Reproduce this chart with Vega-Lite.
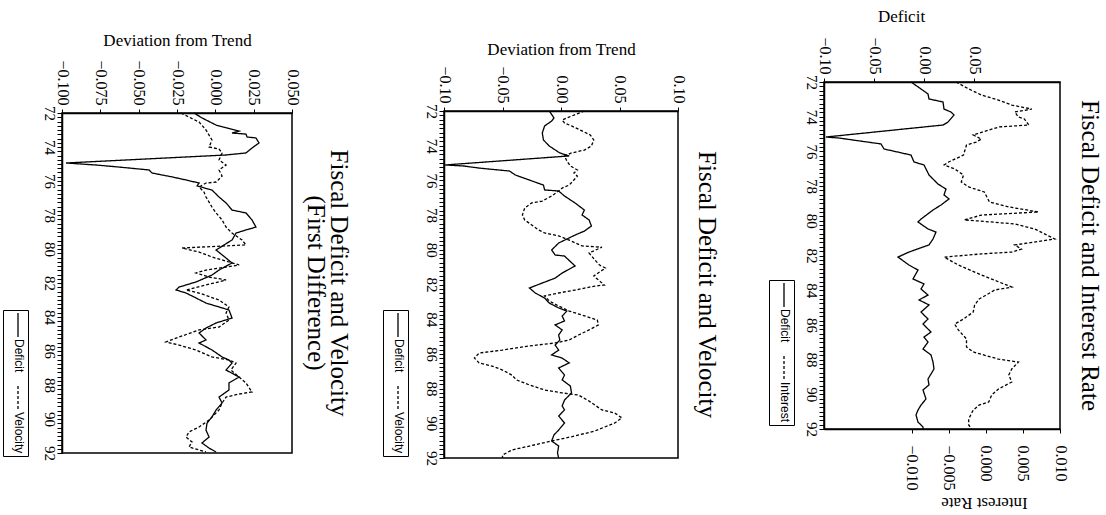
{
  "$schema": "https://vega.github.io/schema/vega-lite/v6.json",
  "padding": {"left": 1, "top": 0, "right": 0, "bottom": 0},
  "background": "white",
  "config": {
    "font": "Liberation Serif",
    "view": {"stroke": null},
    "axis": {
      "labelFont": "Liberation Serif", "labelFontSize": 16, "labelColor": "black",
      "titleFont": "Liberation Serif", "titleFontSize": 17, "titleFontWeight": "normal", "titleColor": "black",
      "domainColor": "black", "domainWidth": 1.5, "tickColor": "black", "tickWidth": 1, "grid": false,
      "labelFlush": false, "labelOverlap": false
    },
    "title": {"font": "Liberation Serif", "fontSize": 25, "fontWeight": "normal", "color": "black", "orient": "right", "anchor": "middle", "lineHeight": 23},
    "legend": {
      "direction": "vertical", "padding": 2, "strokeColor": "black", "cornerRadius": 0,
      "symbolType": "M0,-1L0,1", "symbolSize": 576, "symbolStrokeWidth": 1.3, "symbolStrokeColor": "black",
      "labelFont": "Liberation Sans Narrow, Liberation Sans", "labelFontSize": 12, "labelColor": "black",
      "labelOffset": -12, "rowPadding": 10
    }
  },
  "datasets": {
    "p1d": [
      {"series":"Deficit","year":72.00,"value":-0.013},{"series":"Deficit","year":72.40,"value":-0.003},{"series":"Deficit","year":72.69,"value":0.004},{"series":"Deficit","year":72.98,"value":0.005},{"series":"Deficit","year":73.15,"value":0.019},{"series":"Deficit","year":73.56,"value":0.020},{"series":"Deficit","year":73.73,"value":0.027},{"series":"Deficit","year":73.90,"value":0.030},{"series":"Deficit","year":74.31,"value":0.024},{"series":"Deficit","year":74.48,"value":0.019},{"series":"Deficit","year":75.17,"value":-0.098},{"series":"Deficit","year":75.23,"value":-0.085},{"series":"Deficit","year":75.57,"value":-0.043},{"series":"Deficit","year":75.86,"value":-0.040},{"series":"Deficit","year":76.21,"value":-0.013},{"series":"Deficit","year":76.61,"value":-0.010},{"series":"Deficit","year":76.78,"value":0.000},{"series":"Deficit","year":77.36,"value":0.005},{"series":"Deficit","year":77.88,"value":0.014},{"series":"Deficit","year":78.17,"value":0.022},{"series":"Deficit","year":78.51,"value":0.020},{"series":"Deficit","year":78.74,"value":0.025},{"series":"Deficit","year":79.09,"value":0.017},{"series":"Deficit","year":79.38,"value":0.009},{"series":"Deficit","year":79.90,"value":-0.003},{"series":"Deficit","year":80.07,"value":-0.006},{"series":"Deficit","year":80.47,"value":0.004},{"series":"Deficit","year":80.65,"value":0.012},{"series":"Deficit","year":81.05,"value":0.009},{"series":"Deficit","year":81.39,"value":0.005},{"series":"Deficit","year":81.80,"value":-0.015},{"series":"Deficit","year":82.09,"value":-0.026},{"series":"Deficit","year":82.55,"value":-0.015},{"series":"Deficit","year":82.84,"value":-0.006},{"series":"Deficit","year":83.35,"value":-0.011},{"series":"Deficit","year":83.64,"value":0.000},{"series":"Deficit","year":83.93,"value":-0.003},{"series":"Deficit","year":84.28,"value":0.004},{"series":"Deficit","year":84.56,"value":-0.005},{"series":"Deficit","year":84.85,"value":0.005},{"series":"Deficit","year":85.26,"value":-0.003},{"series":"Deficit","year":85.66,"value":0.004},{"series":"Deficit","year":85.95,"value":-0.001},{"series":"Deficit","year":86.41,"value":0.007},{"series":"Deficit","year":86.70,"value":0.000},{"series":"Deficit","year":86.99,"value":0.004},{"series":"Deficit","year":87.39,"value":-0.001},{"series":"Deficit","year":87.73,"value":0.007},{"series":"Deficit","year":88.14,"value":0.009},{"series":"Deficit","year":88.54,"value":0.010},{"series":"Deficit","year":89.12,"value":0.004},{"series":"Deficit","year":89.46,"value":0.005},{"series":"Deficit","year":89.75,"value":-0.001},{"series":"Deficit","year":90.27,"value":0.002},{"series":"Deficit","year":90.62,"value":-0.003},{"series":"Deficit","year":90.91,"value":-0.006},{"series":"Deficit","year":91.19,"value":-0.008},{"series":"Deficit","year":91.60,"value":-0.006},{"series":"Deficit","year":91.88,"value":-0.001},{"series":"Deficit","year":92.00,"value":-0.001}
    ],
    "p1i": [
      {"series":"Interest","year":72.00,"value":-0.0040},{"series":"Interest","year":72.40,"value":-0.0023},{"series":"Interest","year":72.75,"value":-0.0006},{"series":"Interest","year":73.04,"value":0.0017},{"series":"Interest","year":73.33,"value":0.0035},{"series":"Interest","year":73.56,"value":0.0062},{"series":"Interest","year":73.73,"value":0.0039},{"series":"Interest","year":74.02,"value":0.0044},{"series":"Interest","year":74.13,"value":0.0052},{"series":"Interest","year":74.48,"value":0.0058},{"series":"Interest","year":74.59,"value":0.0018},{"series":"Interest","year":74.77,"value":0.0004},{"series":"Interest","year":75.05,"value":-0.0017},{"series":"Interest","year":75.29,"value":-0.0006},{"series":"Interest","year":75.46,"value":-0.0013},{"series":"Interest","year":75.63,"value":-0.0026},{"series":"Interest","year":76.21,"value":-0.0030},{"series":"Interest","year":76.61,"value":-0.0050},{"series":"Interest","year":76.78,"value":-0.0056},{"series":"Interest","year":77.01,"value":-0.0042},{"series":"Interest","year":77.36,"value":-0.0030},{"series":"Interest","year":77.76,"value":-0.0033},{"series":"Interest","year":78.05,"value":-0.0023},{"series":"Interest","year":78.34,"value":-0.0002},{"series":"Interest","year":78.92,"value":0.0005},{"series":"Interest","year":79.20,"value":0.0031},{"series":"Interest","year":79.49,"value":0.0071},{"series":"Interest","year":79.67,"value":-0.0006},{"series":"Interest","year":79.95,"value":-0.0029},{"series":"Interest","year":80.01,"value":-0.0010},{"series":"Interest","year":80.18,"value":0.0039},{"series":"Interest","year":80.47,"value":0.0066},{"series":"Interest","year":81.05,"value":0.0093},{"series":"Interest","year":81.39,"value":0.0039},{"series":"Interest","year":81.63,"value":0.0048},{"series":"Interest","year":81.80,"value":0.0035},{"series":"Interest","year":81.91,"value":-0.0006},{"series":"Interest","year":82.09,"value":-0.0056},{"series":"Interest","year":82.55,"value":-0.0037},{"series":"Interest","year":83.12,"value":-0.0006},{"series":"Interest","year":83.82,"value":0.0035},{"series":"Interest","year":83.99,"value":0.0012},{"series":"Interest","year":84.51,"value":-0.0009},{"series":"Interest","year":84.85,"value":-0.0015},{"series":"Interest","year":85.26,"value":-0.0017},{"series":"Interest","year":85.66,"value":-0.0030},{"series":"Interest","year":85.95,"value":-0.0042},{"series":"Interest","year":86.29,"value":-0.0037},{"series":"Interest","year":86.81,"value":-0.0026},{"series":"Interest","year":87.27,"value":-0.0026},{"series":"Interest","year":87.56,"value":-0.0017},{"series":"Interest","year":87.97,"value":0.0017},{"series":"Interest","year":88.14,"value":0.0044},{"series":"Interest","year":88.54,"value":0.0035},{"series":"Interest","year":88.89,"value":0.0031},{"series":"Interest","year":89.29,"value":0.0035},{"series":"Interest","year":89.70,"value":0.0017},{"series":"Interest","year":90.04,"value":0.0008},{"series":"Interest","year":90.44,"value":0.0004},{"series":"Interest","year":90.62,"value":-0.0009},{"series":"Interest","year":90.91,"value":-0.0017},{"series":"Interest","year":91.42,"value":-0.0023},{"series":"Interest","year":91.77,"value":-0.0023},{"series":"Interest","year":92.00,"value":-0.0019}
    ],
    "p2": [
      {"series":"Deficit","year":72.00,"value":-0.010},{"series":"Deficit","year":72.40,"value":-0.006},{"series":"Deficit","year":72.58,"value":-0.008},{"series":"Deficit","year":72.86,"value":-0.014},{"series":"Deficit","year":73.27,"value":-0.016},{"series":"Deficit","year":73.67,"value":-0.015},{"series":"Deficit","year":74.02,"value":-0.010},{"series":"Deficit","year":74.42,"value":-0.001},{"series":"Deficit","year":74.59,"value":0.007},{"series":"Deficit","year":75.11,"value":-0.099},{"series":"Deficit","year":75.17,"value":-0.083},{"series":"Deficit","year":75.29,"value":-0.070},{"series":"Deficit","year":75.46,"value":-0.044},{"series":"Deficit","year":75.69,"value":-0.039},{"series":"Deficit","year":75.98,"value":-0.027},{"series":"Deficit","year":76.27,"value":-0.015},{"series":"Deficit","year":76.55,"value":-0.014},{"series":"Deficit","year":76.61,"value":-0.002},{"series":"Deficit","year":76.90,"value":0.003},{"series":"Deficit","year":77.30,"value":0.012},{"series":"Deficit","year":77.71,"value":0.020},{"series":"Deficit","year":77.99,"value":0.018},{"series":"Deficit","year":78.28,"value":0.024},{"series":"Deficit","year":78.63,"value":0.026},{"series":"Deficit","year":78.92,"value":0.020},{"series":"Deficit","year":79.15,"value":0.012},{"series":"Deficit","year":79.61,"value":-0.002},{"series":"Deficit","year":80.01,"value":-0.008},{"series":"Deficit","year":80.30,"value":-0.005},{"series":"Deficit","year":80.36,"value":0.003},{"series":"Deficit","year":80.93,"value":0.012},{"series":"Deficit","year":81.34,"value":0.001},{"series":"Deficit","year":81.63,"value":-0.005},{"series":"Deficit","year":82.20,"value":-0.027},{"series":"Deficit","year":82.49,"value":-0.022},{"series":"Deficit","year":82.78,"value":-0.014},{"series":"Deficit","year":83.07,"value":-0.010},{"series":"Deficit","year":83.35,"value":-0.002},{"series":"Deficit","year":83.53,"value":0.005},{"series":"Deficit","year":83.82,"value":0.001},{"series":"Deficit","year":84.10,"value":0.003},{"series":"Deficit","year":84.33,"value":-0.005},{"series":"Deficit","year":84.62,"value":0.001},{"series":"Deficit","year":84.91,"value":-0.002},{"series":"Deficit","year":85.20,"value":-0.001},{"series":"Deficit","year":85.49,"value":-0.005},{"series":"Deficit","year":85.78,"value":-0.002},{"series":"Deficit","year":86.06,"value":-0.008},{"series":"Deficit","year":86.24,"value":0.001},{"series":"Deficit","year":86.52,"value":0.007},{"series":"Deficit","year":86.81,"value":-0.002},{"series":"Deficit","year":87.22,"value":0.003},{"series":"Deficit","year":87.50,"value":0.001},{"series":"Deficit","year":87.85,"value":0.008},{"series":"Deficit","year":88.25,"value":0.009},{"series":"Deficit","year":88.66,"value":0.003},{"series":"Deficit","year":89.00,"value":0.001},{"series":"Deficit","year":89.23,"value":0.003},{"series":"Deficit","year":89.58,"value":-0.002},{"series":"Deficit","year":89.98,"value":0.003},{"series":"Deficit","year":90.39,"value":-0.002},{"series":"Deficit","year":90.67,"value":-0.006},{"series":"Deficit","year":91.02,"value":-0.008},{"series":"Deficit","year":91.31,"value":-0.002},{"series":"Deficit","year":91.71,"value":-0.003},{"series":"Deficit","year":92.00,"value":-0.002},
      {"series":"Velocity","year":72.00,"value":0.020},{"series":"Velocity","year":72.29,"value":0.009},{"series":"Velocity","year":72.52,"value":0.001},{"series":"Velocity","year":72.69,"value":0.003},{"series":"Velocity","year":72.86,"value":0.009},{"series":"Velocity","year":73.15,"value":0.018},{"series":"Velocity","year":73.38,"value":0.025},{"series":"Velocity","year":73.67,"value":0.028},{"series":"Velocity","year":74.02,"value":0.026},{"series":"Velocity","year":74.25,"value":0.020},{"series":"Velocity","year":74.42,"value":0.009},{"series":"Velocity","year":74.59,"value":0.003},{"series":"Velocity","year":74.88,"value":0.005},{"series":"Velocity","year":75.17,"value":0.008},{"series":"Velocity","year":75.40,"value":0.014},{"series":"Velocity","year":75.57,"value":0.011},{"series":"Velocity","year":75.75,"value":0.014},{"series":"Velocity","year":75.98,"value":0.011},{"series":"Velocity","year":76.27,"value":0.007},{"series":"Velocity","year":76.44,"value":0.001},{"series":"Velocity","year":76.61,"value":-0.002},{"series":"Velocity","year":76.90,"value":-0.008},{"series":"Velocity","year":77.19,"value":-0.016},{"series":"Velocity","year":77.30,"value":-0.025},{"series":"Velocity","year":77.59,"value":-0.031},{"series":"Velocity","year":77.99,"value":-0.033},{"series":"Velocity","year":78.28,"value":-0.031},{"series":"Velocity","year":78.57,"value":-0.025},{"series":"Velocity","year":78.86,"value":-0.019},{"series":"Velocity","year":79.03,"value":-0.014},{"series":"Velocity","year":79.20,"value":-0.002},{"series":"Velocity","year":79.44,"value":0.007},{"series":"Velocity","year":79.78,"value":0.018},{"series":"Velocity","year":79.85,"value":0.035},{"series":"Velocity","year":80.18,"value":0.024},{"series":"Velocity","year":80.59,"value":0.029},{"series":"Velocity","year":80.88,"value":0.033},{"series":"Velocity","year":81.05,"value":0.038},{"series":"Velocity","year":81.51,"value":0.028},{"series":"Velocity","year":82.03,"value":0.037},{"series":"Velocity","year":82.09,"value":0.029},{"series":"Velocity","year":82.32,"value":0.012},{"series":"Velocity","year":82.49,"value":-0.002},{"series":"Velocity","year":82.66,"value":-0.014},{"series":"Velocity","year":82.95,"value":-0.010},{"series":"Velocity","year":83.24,"value":-0.002},{"series":"Velocity","year":83.53,"value":0.007},{"series":"Velocity","year":83.76,"value":0.018},{"series":"Velocity","year":84.05,"value":0.031},{"series":"Velocity","year":84.33,"value":0.032},{"series":"Velocity","year":84.62,"value":0.024},{"series":"Velocity","year":84.91,"value":0.015},{"series":"Velocity","year":85.20,"value":0.007},{"series":"Velocity","year":85.37,"value":-0.005},{"series":"Velocity","year":85.54,"value":-0.027},{"series":"Velocity","year":85.78,"value":-0.050},{"series":"Velocity","year":85.95,"value":-0.070},{"series":"Velocity","year":86.24,"value":-0.074},{"series":"Velocity","year":86.52,"value":-0.070},{"series":"Velocity","year":86.70,"value":-0.059},{"series":"Velocity","year":86.93,"value":-0.050},{"series":"Velocity","year":87.22,"value":-0.042},{"series":"Velocity","year":87.50,"value":-0.038},{"series":"Velocity","year":87.79,"value":-0.027},{"series":"Velocity","year":88.08,"value":-0.014},{"series":"Velocity","year":88.25,"value":0.001},{"series":"Velocity","year":88.37,"value":0.015},{"series":"Velocity","year":88.72,"value":0.024},{"series":"Velocity","year":89.23,"value":0.035},{"series":"Velocity","year":89.41,"value":0.046},{"series":"Velocity","year":89.69,"value":0.052},{"series":"Velocity","year":89.98,"value":0.046},{"series":"Velocity","year":90.44,"value":0.029},{"series":"Velocity","year":90.73,"value":0.012},{"series":"Velocity","year":91.02,"value":-0.008},{"series":"Velocity","year":91.31,"value":-0.027},{"series":"Velocity","year":91.54,"value":-0.042},{"series":"Velocity","year":91.83,"value":-0.050},{"series":"Velocity","year":92.00,"value":-0.050}
    ],
    "p3": [
      {"series":"Deficit","year":72.00,"value":-0.0139},{"series":"Deficit","year":72.29,"value":-0.0087},{"series":"Deficit","year":72.71,"value":0.0005},{"series":"Deficit","year":72.88,"value":0.0076},{"series":"Deficit","year":73.06,"value":0.0155},{"series":"Deficit","year":73.18,"value":0.0109},{"series":"Deficit","year":73.24,"value":0.0200},{"series":"Deficit","year":73.41,"value":0.0207},{"series":"Deficit","year":73.47,"value":0.0265},{"series":"Deficit","year":73.76,"value":0.0285},{"series":"Deficit","year":74.06,"value":0.0239},{"series":"Deficit","year":74.35,"value":0.0200},{"series":"Deficit","year":74.47,"value":0.0070},{"series":"Deficit","year":74.94,"value":-0.0974},{"series":"Deficit","year":75.06,"value":-0.0778},{"series":"Deficit","year":75.18,"value":-0.0628},{"series":"Deficit","year":75.35,"value":-0.0432},{"series":"Deficit","year":75.53,"value":-0.0413},{"series":"Deficit","year":75.76,"value":-0.0282},{"series":"Deficit","year":75.94,"value":-0.0191},{"series":"Deficit","year":76.12,"value":-0.0106},{"series":"Deficit","year":76.29,"value":-0.0119},{"series":"Deficit","year":76.53,"value":-0.0022},{"series":"Deficit","year":76.94,"value":0.0024},{"series":"Deficit","year":77.29,"value":0.0070},{"series":"Deficit","year":77.71,"value":0.0109},{"series":"Deficit","year":77.88,"value":0.0200},{"series":"Deficit","year":78.29,"value":0.0239},{"series":"Deficit","year":78.71,"value":0.0265},{"series":"Deficit","year":78.88,"value":0.0200},{"series":"Deficit","year":79.06,"value":0.0135},{"series":"Deficit","year":79.47,"value":0.0109},{"series":"Deficit","year":79.76,"value":0.0057},{"series":"Deficit","year":80.06,"value":0.0005},{"series":"Deficit","year":80.82,"value":0.0109},{"series":"Deficit","year":81.24,"value":0.0024},{"series":"Deficit","year":81.53,"value":-0.0022},{"series":"Deficit","year":81.94,"value":-0.0126},{"series":"Deficit","year":82.24,"value":-0.0237},{"series":"Deficit","year":82.41,"value":-0.0256},{"series":"Deficit","year":82.59,"value":-0.0191},{"series":"Deficit","year":82.88,"value":-0.0126},{"series":"Deficit","year":83.18,"value":-0.0061},{"series":"Deficit","year":83.41,"value":0.0024},{"series":"Deficit","year":83.59,"value":0.0089},{"series":"Deficit","year":84.06,"value":0.0109},{"series":"Deficit","year":84.35,"value":0.0005},{"series":"Deficit","year":84.65,"value":-0.0061},{"series":"Deficit","year":84.94,"value":-0.0106},{"series":"Deficit","year":85.35,"value":-0.0061},{"series":"Deficit","year":85.53,"value":-0.0106},{"series":"Deficit","year":85.94,"value":-0.0022},{"series":"Deficit","year":86.35,"value":0.0044},{"series":"Deficit","year":86.53,"value":0.0089},{"series":"Deficit","year":86.71,"value":0.0109},{"series":"Deficit","year":87.12,"value":0.0070},{"series":"Deficit","year":87.53,"value":0.0155},{"series":"Deficit","year":87.88,"value":0.0089},{"series":"Deficit","year":88.29,"value":0.0089},{"series":"Deficit","year":88.71,"value":0.0024},{"series":"Deficit","year":89.06,"value":0.0044},{"series":"Deficit","year":89.47,"value":0.0005},{"series":"Deficit","year":89.88,"value":-0.0022},{"series":"Deficit","year":90.24,"value":-0.0054},{"series":"Deficit","year":90.65,"value":-0.0061},{"series":"Deficit","year":91.06,"value":-0.0041},{"series":"Deficit","year":91.41,"value":-0.0087},{"series":"Deficit","year":91.71,"value":-0.0041},{"series":"Deficit","year":91.94,"value":0.0005},
      {"series":"Velocity","year":72.00,"value":-0.0224},{"series":"Velocity","year":72.24,"value":-0.0172},{"series":"Velocity","year":72.53,"value":-0.0106},{"series":"Velocity","year":73.00,"value":-0.0061},{"series":"Velocity","year":73.59,"value":-0.0022},{"series":"Velocity","year":74.00,"value":-0.0041},{"series":"Velocity","year":74.12,"value":0.0024},{"series":"Velocity","year":74.35,"value":0.0044},{"series":"Velocity","year":74.76,"value":0.0024},{"series":"Velocity","year":75.06,"value":0.0070},{"series":"Velocity","year":75.35,"value":0.0024},{"series":"Velocity","year":75.71,"value":0.0044},{"series":"Velocity","year":76.06,"value":0.0005},{"series":"Velocity","year":76.12,"value":-0.0061},{"series":"Velocity","year":76.35,"value":-0.0106},{"series":"Velocity","year":76.65,"value":-0.0074},{"series":"Velocity","year":76.94,"value":-0.0061},{"series":"Velocity","year":77.24,"value":-0.0041},{"series":"Velocity","year":77.53,"value":-0.0022},{"series":"Velocity","year":77.88,"value":0.0005},{"series":"Velocity","year":78.29,"value":0.0044},{"series":"Velocity","year":78.71,"value":0.0070},{"series":"Velocity","year":79.06,"value":0.0109},{"series":"Velocity","year":79.47,"value":0.0174},{"series":"Velocity","year":79.76,"value":0.0200},{"series":"Velocity","year":79.94,"value":-0.0217},{"series":"Velocity","year":80.18,"value":-0.0106},{"series":"Velocity","year":80.47,"value":-0.0022},{"series":"Velocity","year":80.94,"value":0.0155},{"series":"Velocity","year":81.24,"value":-0.0061},{"series":"Velocity","year":81.41,"value":-0.0126},{"series":"Velocity","year":81.65,"value":-0.0041},{"series":"Velocity","year":81.82,"value":0.0070},{"series":"Velocity","year":82.00,"value":-0.0009},{"series":"Velocity","year":82.41,"value":-0.0191},{"series":"Velocity","year":82.59,"value":-0.0106},{"series":"Velocity","year":83.00,"value":0.0024},{"series":"Velocity","year":83.41,"value":0.0089},{"series":"Velocity","year":83.76,"value":0.0070},{"series":"Velocity","year":84.18,"value":0.0089},{"series":"Velocity","year":84.59,"value":0.0024},{"series":"Velocity","year":84.76,"value":-0.0106},{"series":"Velocity","year":85.18,"value":-0.0237},{"series":"Velocity","year":85.47,"value":-0.0322},{"series":"Velocity","year":85.65,"value":-0.0237},{"series":"Velocity","year":85.94,"value":-0.0126},{"series":"Velocity","year":86.35,"value":-0.0022},{"series":"Velocity","year":86.53,"value":0.0089},{"series":"Velocity","year":86.71,"value":0.0135},{"series":"Velocity","year":87.12,"value":0.0102},{"series":"Velocity","year":87.53,"value":0.0155},{"series":"Velocity","year":87.88,"value":0.0200},{"series":"Velocity","year":88.41,"value":0.0239},{"series":"Velocity","year":88.53,"value":0.0155},{"series":"Velocity","year":88.71,"value":0.0070},{"series":"Velocity","year":89.06,"value":0.0044},{"series":"Velocity","year":89.47,"value":0.0024},{"series":"Velocity","year":90.06,"value":-0.0041},{"series":"Velocity","year":90.47,"value":-0.0106},{"series":"Velocity","year":90.76,"value":-0.0172},{"series":"Velocity","year":91.06,"value":-0.0191},{"series":"Velocity","year":91.35,"value":-0.0152},{"series":"Velocity","year":91.65,"value":-0.0172},{"series":"Velocity","year":91.82,"value":-0.0106},{"series":"Velocity","year":91.94,"value":-0.0061}
    ]
  },
  "hconcat": [
    {
      "hconcat": [
        {
          "vconcat": [
            {"width": 5, "height": 28, "data": {"values": [{"a": 1}]}, "mark": {"type": "point", "opacity": 0}},
            {
              "width": 230, "height": 340,
              "view": {"stroke": "black", "strokeWidth": 1.5},
              "title": {"text": ["Fiscal Deficit and Velocity", "(First Difference)"], "offset": 3},
              "data": {"name": "p3"},
              "mark": {"type": "line", "strokeWidth": 1.3, "color": "black"},
              "encoding": {
                "y": {"field": "year", "type": "quantitative", "scale": {"domain": [72, 92], "reverse": true, "nice": false, "zero": false},
                  "axis": {"orient": "left", "title": null, "values": [72,72.25,72.5,72.75,73,73.25,73.5,73.75,74,74.25,74.5,74.75,75,75.25,75.5,75.75,76,76.25,76.5,76.75,77,77.25,77.5,77.75,78,78.25,78.5,78.75,79,79.25,79.5,79.75,80,80.25,80.5,80.75,81,81.25,81.5,81.75,82,82.25,82.5,82.75,83,83.25,83.5,83.75,84,84.25,84.5,84.75,85,85.25,85.5,85.75,86,86.25,86.5,86.75,87,87.25,87.5,87.75,88,88.25,88.5,88.75,89,89.25,89.5,89.75,90,90.25,90.5,90.75,91,91.25,91.5,91.75,92],
                    "labelExpr": "datum.value % 2 === 0 ? format(datum.value, 'd') : ''", "labelAngle": 90, "labelAlign": "center", "labelBaseline": "top", "tickSize": 5, "labelPadding": 1, "labelFontSize": 15}},
                "x": {"field": "value", "type": "quantitative", "scale": {"domain": [-0.1, 0.05], "nice": false, "zero": false},
                  "axis": {"orient": "top", "title": "Deviation from Trend", "values": [-0.1, -0.075, -0.05, -0.025, 0, 0.025, 0.05], "format": ".3f", "labelAngle": 90, "labelAlign": "right", "labelBaseline": "middle", "tickSize": 4, "labelPadding": 4, "titlePadding": 10}},
                "strokeDash": {"field": "series", "type": "nominal", "scale": {"domain": ["Deficit", "Velocity"], "range": [[1, 0], [3, 2]]},
                  "legend": {"title": null, "orient": "none", "legendX": -59, "legendY": 197, "symbolType": "M0,-1L0,1", "encoding": {"labels": {"angle": {"value": 90}, "dx": {"value": 14}}}}},
                "order": {"field": "year", "type": "quantitative"}
              }
            }
          ],
          "spacing": 0,
          "resolve": {"scale": {"strokeDash": "independent"}, "legend": {"strokeDash": "independent"}}
        },
        {
          "vconcat": [
            {"width": 5, "height": 37, "data": {"values": [{"a": 1}]}, "mark": {"type": "point", "opacity": 0}},
            {
              "width": 234, "height": 347,
              "view": {"stroke": "black", "strokeWidth": 1.5},
              "title": {"text": "Fiscal Deficit and Velocity", "offset": 8},
              "data": {"name": "p2"},
              "mark": {"type": "line", "strokeWidth": 1.3, "color": "black"},
              "encoding": {
                "y": {"field": "year", "type": "quantitative", "scale": {"domain": [72, 92], "reverse": true, "nice": false, "zero": false},
                  "axis": {"orient": "left", "title": null, "values": [72,72.25,72.5,72.75,73,73.25,73.5,73.75,74,74.25,74.5,74.75,75,75.25,75.5,75.75,76,76.25,76.5,76.75,77,77.25,77.5,77.75,78,78.25,78.5,78.75,79,79.25,79.5,79.75,80,80.25,80.5,80.75,81,81.25,81.5,81.75,82,82.25,82.5,82.75,83,83.25,83.5,83.75,84,84.25,84.5,84.75,85,85.25,85.5,85.75,86,86.25,86.5,86.75,87,87.25,87.5,87.75,88,88.25,88.5,88.75,89,89.25,89.5,89.75,90,90.25,90.5,90.75,91,91.25,91.5,91.75,92],
                    "labelExpr": "datum.value % 2 === 0 ? format(datum.value, 'd') : ''", "labelAngle": 90, "labelAlign": "center", "labelBaseline": "top", "tickSize": 5, "labelPadding": 1, "labelFontSize": 15}},
                "x": {"field": "value", "type": "quantitative", "scale": {"domain": [-0.1, 0.1], "nice": false, "zero": false},
                  "axis": {"orient": "top", "title": "Deviation from Trend", "values": [-0.1, -0.05, 0, 0.05, 0.1], "format": ".2f", "labelAngle": 90, "labelAlign": "right", "labelBaseline": "middle", "tickSize": 4, "labelPadding": 4, "titlePadding": 7}},
                "strokeDash": {"field": "series", "type": "nominal", "scale": {"domain": ["Deficit", "Velocity"], "range": [[1, 0], [3, 2]]},
                  "legend": {"title": null, "orient": "none", "legendX": -61, "legendY": 199, "symbolType": "M0,-1L0,1", "encoding": {"labels": {"angle": {"value": 90}, "dx": {"value": 14}}}}},
                "order": {"field": "year", "type": "quantitative"}
              }
            }
          ],
          "spacing": 0,
          "resolve": {"scale": {"strokeDash": "independent"}, "legend": {"strokeDash": "independent"}}
        }
      ],
      "spacing": 29,
      "resolve": {"scale": {"strokeDash": "independent"}, "legend": {"strokeDash": "independent"}}
    },
    {
      "vconcat": [
        {"width": 5, "height": 1, "data": {"values": [{"a": 1}]}, "mark": {"type": "point", "opacity": 0}},
        {
          "width": 236, "height": 347,
          "view": {"stroke": "black", "strokeWidth": 1.5},
          "title": {"text": "Fiscal Deficit and Interest Rate", "offset": 9},
          "encoding": {
            "y": {"field": "year", "type": "quantitative", "scale": {"domain": [72, 92], "reverse": true, "nice": false, "zero": false},
              "axis": {"orient": "left", "title": null, "values": [72,72.25,72.5,72.75,73,73.25,73.5,73.75,74,74.25,74.5,74.75,75,75.25,75.5,75.75,76,76.25,76.5,76.75,77,77.25,77.5,77.75,78,78.25,78.5,78.75,79,79.25,79.5,79.75,80,80.25,80.5,80.75,81,81.25,81.5,81.75,82,82.25,82.5,82.75,83,83.25,83.5,83.75,84,84.25,84.5,84.75,85,85.25,85.5,85.75,86,86.25,86.5,86.75,87,87.25,87.5,87.75,88,88.25,88.5,88.75,89,89.25,89.5,89.75,90,90.25,90.5,90.75,91,91.25,91.5,91.75,92],
                "labelExpr": "datum.value % 2 === 0 ? format(datum.value, 'd') : ''", "labelAngle": 90, "labelAlign": "center", "labelBaseline": "top", "tickSize": 5, "labelPadding": 1, "labelFontSize": 15}},
            "strokeDash": {"field": "series", "type": "nominal", "scale": {"domain": ["Deficit", "Interest"], "range": [[1, 0], [3, 2]]},
              "legend": {"title": null, "orient": "none", "legendX": -55, "legendY": 198, "symbolType": "M0,-1L0,1", "encoding": {"labels": {"angle": {"value": 90}, "dx": {"value": 14}}}}},
            "order": {"field": "year", "type": "quantitative"}
          },
          "layer": [
            {
              "data": {"name": "p1d"},
              "mark": {"type": "line", "strokeWidth": 1.3, "color": "black"},
              "encoding": {
                "x": {"field": "value", "type": "quantitative", "scale": {"domain": [-0.1, 0.136], "nice": false, "zero": false},
                  "axis": {"orient": "top", "title": "Deficit", "titleX": 77, "values": [-0.1, -0.05, 0, 0.05], "format": ".2f", "labelAngle": 90, "labelAlign": "right", "labelBaseline": "middle", "tickSize": 4, "labelPadding": 4, "titlePadding": 11}}
              }
            },
            {
              "data": {"name": "p1i"},
              "mark": {"type": "line", "strokeWidth": 1.3, "color": "black"},
              "encoding": {
                "x": {"field": "value", "type": "quantitative", "scale": {"domain": [-0.0218, 0.010], "nice": false, "zero": false},
                  "axis": {"orient": "bottom", "title": "Interest Rate", "titleX": 160, "titleAngle": 180, "titleBaseline": "bottom", "values": [-0.01, -0.005, 0, 0.005, 0.01], "format": ".3f", "labelAngle": 90, "labelAlign": "left", "labelBaseline": "middle", "tickSize": 4, "labelPadding": 12, "titlePadding": 3}}
              }
            }
          ],
          "resolve": {"scale": {"x": "independent"}, "axis": {"x": "independent"}}
        }
      ],
      "spacing": 0,
      "resolve": {"scale": {"strokeDash": "independent"}, "legend": {"strokeDash": "independent"}}
    }
  ],
  "spacing": 47,
  "resolve": {"scale": {"strokeDash": "independent"}, "legend": {"strokeDash": "independent"}}
}
